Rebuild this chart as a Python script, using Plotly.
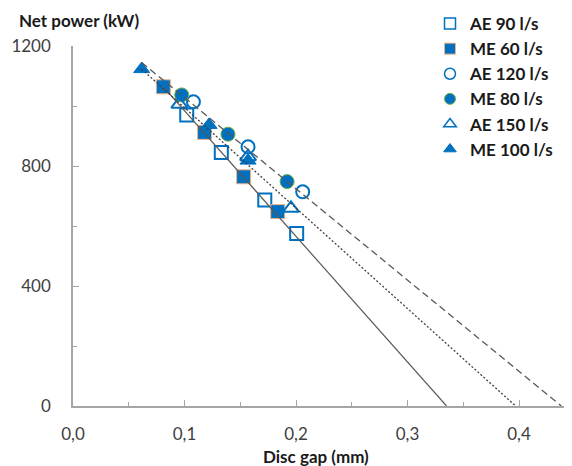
import plotly.graph_objects as go

# ---- data ----
ae90_x = [0.102, 0.133, 0.172, 0.2006]
ae90_y = [970, 845, 687, 575]
me60_x = [0.081, 0.118, 0.153, 0.1836]
me60_y = [1064, 912, 764, 648]
ae120_x = [0.108, 0.157, 0.206]
ae120_y = [1014, 864, 714]
me80_x = [0.0975, 0.139, 0.192]
me80_y = [1037, 906, 748]
ae150_x = [0.0954, 0.157, 0.1955]
ae150_y = [1006, 831, 659]
me100_x = [0.0616, 0.122, 0.157]
me100_y = [1123, 937, 818]

# trend lines (start / end points)
solid_x = [0.081, 0.335]
solid_y = [1064, 0]
dotted_x = [0.0616, 0.397]
dotted_y = [1123, 0]
dashed_x = [0.0616, 0.438]
dashed_y = [1145, 0]

x_ticks = [0.0, 0.1, 0.2, 0.3, 0.4]
y_ticks = [0, 400, 800, 1200]

BLUE = "#0070C0"
FONT = "Lato"

# the page body adds an 8px margin, so the figure is offset by 8px
OFF = 8
# plot area in screen pixels
SL, SR, ST, SB = 73, 572, 46, 406
W, H = 572 - OFF, 466 - OFF
L, R, T, B = SL - OFF, SR - OFF, ST - OFF, SB - OFF


def px(x):
    return (x - SL) / (SR - SL)


def py(y):
    return (SB - y) / (SB - ST)


fig = go.Figure()

series = [
    ("AE 90 l/s", ae90_x, ae90_y, dict(symbol="square-open", size=13, color=BLUE, line=dict(width=2, color=BLUE))),
    ("ME 60 l/s", me60_x, me60_y, dict(symbol="square", size=14, color=BLUE, line=dict(width=1, color="#F4B183"))),
    ("AE 120 l/s", ae120_x, ae120_y, dict(symbol="circle-open", size=13, color=BLUE, line=dict(width=2, color=BLUE))),
    ("ME 80 l/s", me80_x, me80_y, dict(symbol="circle", size=14, color=BLUE, line=dict(width=1, color="#70AD47"))),
    ("AE 150 l/s", ae150_x, ae150_y, dict(symbol="triangle-up-open", size=14, color=BLUE, line=dict(width=2, color=BLUE))),
    ("ME 100 l/s", me100_x, me100_y, dict(symbol="triangle-up", size=14, color=BLUE, line=dict(width=1, color=BLUE))),
]

for name, xs, ys, mk in series:
    fig.add_trace(go.Scatter(x=xs, y=ys, mode="markers", name=name, marker=mk, showlegend=False))

# legend-only entries with smaller symbols
for name, xs, ys, mk in series:
    m = dict(mk)
    m["size"] = 11
    if "open" in m["symbol"]:
        m["line"] = dict(width=1.5, color=BLUE)
    fig.add_trace(go.Scatter(x=[None], y=[None], mode="markers", name=name, marker=m, showlegend=True))

fig.add_trace(go.Scatter(x=solid_x, y=solid_y, mode="lines", showlegend=False,
                         line=dict(color="#595959", width=1.2)))
fig.add_trace(go.Scatter(x=dotted_x, y=dotted_y, mode="lines", showlegend=False,
                         line=dict(color="#404040", width=1.3, dash="2px,2px")))
fig.add_trace(go.Scatter(x=dashed_x, y=dashed_y, mode="lines", showlegend=False,
                         line=dict(color="#595959", width=1.3, dash="7px,4px")))

axis_common = dict(
    showline=True, linecolor="#A6A6A6", linewidth=1.5,
    showgrid=False, zeroline=False,
    ticks="inside", ticklen=6, tickcolor="#A6A6A6", tickwidth=1,
    tickfont=dict(family=FONT, size=17, color="#404040"),
    ticklabelstandoff=12,
)

fig.update_xaxes(range=[0, (SR - SL) / 1115], tickvals=x_ticks, tickformat=".1f",
                 minor=dict(ticks="inside", ticklen=4, dtick=0.05, tickcolor="#A6A6A6"),
                 **axis_common)
axis_common["ticklabelstandoff"] = 17
fig.update_yaxes(range=[0, 1200], tickvals=y_ticks, tickformat="d",
                 minor=dict(ticks="inside", ticklen=4, dtick=200, tickcolor="#A6A6A6"),
                 **axis_common)

fig.add_annotation(text="<b>Net power (kW)</b>", xref="paper", yref="paper",
                   x=px(17), y=py(20), xanchor="left", yanchor="middle", showarrow=False,
                   font=dict(family=FONT, size=17, color="#1a1a1a"))
fig.add_annotation(text="<b>Disc gap (mm)</b>", xref="paper", yref="paper",
                   x=px(316), y=py(456), xanchor="center", yanchor="middle", showarrow=False,
                   font=dict(family=FONT, size=17, color="#1a1a1a"))

fig.update_layout(
    width=W, height=H,
    margin=dict(l=L, r=W - R, t=T, b=H - B, pad=0, autoexpand=False),
    paper_bgcolor="white", plot_bgcolor="white",
    separators=", ",
    legend=dict(x=px(430), y=py(6), xanchor="left", yanchor="top",
                font=dict(family=FONT, size=17, color="#1a1a1a", weight="bold"),
                bgcolor="rgba(0,0,0,0)", itemwidth=30, tracegroupgap=0),
)

fig.write_html("out.html")
